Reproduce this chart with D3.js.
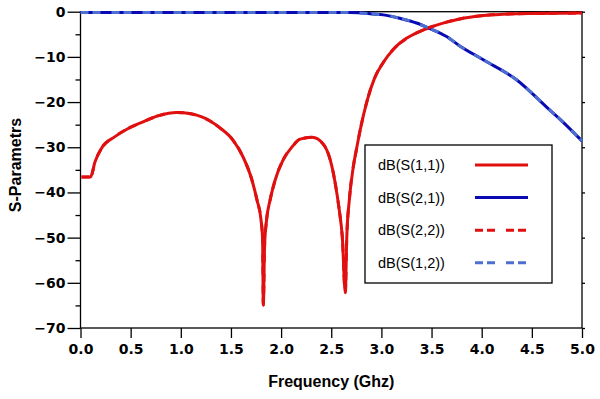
<!DOCTYPE html>
<meta charset="utf-8">
<script src="https://d3js.org/d3.v7.min.js"></script>
<style>
body { margin: 0; background: #fff; }
.tick text { font-family: "DejaVu Sans", Verdana, sans-serif; font-weight: bold; font-size: 14px; fill: #000; }
.axis path, .axis line { stroke: #000; stroke-width: 1.3; }
.title { font-family: "Liberation Sans", Arial, sans-serif; font-weight: bold; font-size: 16px; }
.legend text { font-family: "Liberation Sans", Arial, sans-serif; font-size: 14.5px; }
</style>
<body>
<script>

// data: [frequency GHz, dB]
var s11 = [[0.01,-36.6],[0.10,-36.6],[0.145,-33.2],[0.21,-30.2],[0.34,-27.7],[0.48,-25.8],
  [0.61,-24.5],[0.78,-23.0],[0.96,-22.3],[1.10,-22.6],[1.21,-23.3],[1.30,-24.3],[1.39,-25.7],
  [1.52,-28.4],[1.62,-32.1],[1.71,-37.3],[1.76,-41.7],[1.80,-46.1],[1.815,-50],[1.823,-64.9],
  [1.835,-52],[1.855,-46.1],[1.89,-41.7],[1.94,-37.3],[2.02,-32.8],[2.11,-29.9],[2.19,-28.2],
  [2.31,-27.8],[2.42,-29.3],[2.49,-32.8],[2.54,-38],[2.58,-43.9],[2.61,-49.8],[2.64,-62.2],
  [2.655,-49.8],[2.68,-41.7],[2.72,-34.3],[2.75,-30.6],[2.79,-26.0],[2.86,-19.5],[2.93,-14.8],
  [3.02,-11.2],[3.12,-8.3],[3.25,-5.9],[3.38,-4.4],[3.48,-3.5],[3.65,-2.3],[3.78,-1.6],
  [4.02,-0.85],[4.35,-0.45],[5.0,-0.3]];
var s22 = s11;
var s21 = [[0,-0.2],[1,-0.2],[2,-0.2],[2.69,-0.2],[2.92,-0.5],[3.02,-0.7],[3.19,-1.5],
  [3.35,-2.5],[3.48,-3.7],[3.65,-5.5],[3.77,-7.4],[4.02,-10.7],[4.35,-15.1],[4.68,-21.8],
  [4.80,-24.2],[5.0,-28.6]];
var s12 = s21;

var xTicks = d3.range(0, 5.01, 0.5);
var yTicks = d3.range(-70, 0.1, 10);
var yMinor = d3.range(-65, 0, 10);

var seriesNames = ["dB(S(1,1))", "dB(S(2,1))", "dB(S(2,2))", "dB(S(1,2))"];
var seriesData = [s11, s21, s22, s12];
var seriesColors = ["#e01010", "#0a0ab4", "#e01010", "#4d6fd0"];
var seriesDash = [null, null, "8,4,8,11", "8,4,8,11"];

var W = 600, H = 399;
var plotLeft = 80.5, plotRight = 582, plotTop = 11.7, plotBottom = 328;

var svg = d3.select("body").append("svg")
  .attr("width", W)
  .attr("height", H);

var x = d3.scaleLinear().domain([0, 5]).range([plotLeft, plotRight]);
var y = d3.scaleLinear().domain([-70, 0]).range([plotBottom, plotTop]);

// frame
svg.append("rect")
  .attr("x", plotLeft).attr("y", plotTop)
  .attr("width", plotRight - plotLeft).attr("height", plotBottom - plotTop)
  .attr("fill", "none").attr("stroke", "#000").attr("stroke-width", 1.3);

// axes
svg.append("g").attr("class", "axis")
  .attr("transform", "translate(0," + plotBottom + ")")
  .call(d3.axisBottom(x).tickValues(xTicks).tickSize(10).tickPadding(6)
    .tickFormat(d3.format(".1f")));

svg.append("g").attr("class", "axis")
  .attr("transform", "translate(" + plotLeft + ",0)")
  .call(d3.axisLeft(y).tickValues(yTicks).tickSize(13).tickPadding(2)
    .tickFormat(d3.format("d")));

svg.append("g").attr("class", "axis")
  .attr("transform", "translate(" + plotLeft + ",0)")
  .call(d3.axisLeft(y).tickValues(yMinor).tickSize(5).tickFormat(""));

svg.append("g").attr("class", "axis")
  .attr("transform", "translate(" + plotRight + ",0)")
  .call(d3.axisRight(y).tickValues(yTicks).tickSize(3).tickFormat(""));

svg.selectAll(".axis .domain").remove();

// titles
svg.append("text").attr("class", "title")
  .attr("x", (plotLeft + plotRight) / 2).attr("y", 387)
  .attr("text-anchor", "middle")
  .text("Frequency (Ghz)");

svg.append("text").attr("class", "title")
  .attr("transform", "translate(21,165) rotate(-90)")
  .attr("text-anchor", "middle")
  .text("S-Parametrs");

// curves
var line = d3.line()
  .x(function(d) { return x(d[0]); })
  .y(function(d) { return y(d[1]); })
  .curve(d3.curveMonotoneX);

svg.selectAll(".curve")
  .data(seriesData)
  .enter().append("path")
  .attr("class", "curve")
  .attr("d", line)
  .attr("fill", "none")
  .attr("stroke", function(d, i) { return seriesColors[i]; })
  .attr("stroke-width", 3)
  .attr("stroke-dasharray", function(d, i) { return seriesDash[i]; });

// legend
var legend = svg.append("g").attr("class", "legend");
legend.append("rect")
  .attr("x", 365).attr("y", 145).attr("width", 187).attr("height", 138)
  .attr("fill", "#fff").attr("stroke", "#000").attr("stroke-width", 1.3);

var rows = legend.selectAll(".row")
  .data(seriesNames)
  .enter().append("g")
  .attr("class", "row")
  .attr("transform", function(d, i) { return "translate(0," + (165 + i * 32.6) + ")"; });

rows.append("text")
  .attr("x", 378).attr("dy", "0.35em")
  .text(function(d) { return d; });

rows.append("line")
  .attr("x1", 475).attr("x2", 528)
  .attr("stroke", function(d, i) { return seriesColors[i]; })
  .attr("stroke-width", 3)
  .attr("stroke-dasharray", function(d, i) { return seriesDash[i]; });

</script>
</body>
